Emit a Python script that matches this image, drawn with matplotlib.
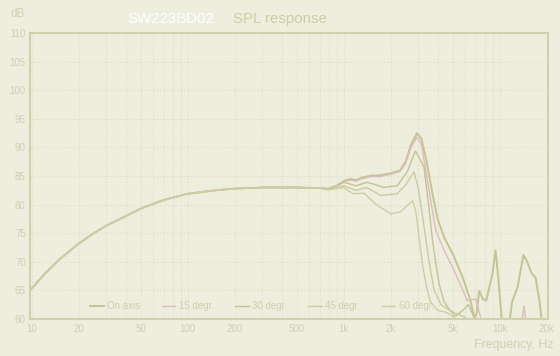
import matplotlib.pyplot as plt
from matplotlib.ticker import FixedLocator, FixedFormatter, NullFormatter
import numpy as np

plt.rcParams['font.family'] = ['Liberation Sans', 'DejaVu Sans']

# Datos comunes (todas las curvas coinciden por debajo de ~700 Hz)
freq_low = [10, 12, 15, 20, 25, 30, 40, 50, 70, 100, 150, 200, 300, 500, 700]
spl_low = [65.3, 67.8, 70.4, 73.2, 75.0, 76.3, 78.0, 79.3, 80.8, 81.9, 82.5, 82.8, 83.0, 83.0, 82.9]

# On axis
freq_0 = [800, 900, 1000, 1100, 1200, 1300, 1500, 1700, 2000, 2300, 2500, 2700, 2950, 3150,
          3400, 3700, 4000, 4400, 5000, 5800, 6500, 6900, 7100, 7400, 7800, 8200, 9000, 9400,
          9800, 10300, 10700, 11500, 12000, 13000, 14200, 15000, 16000, 17000, 18000, 19000]
spl_0 = [82.8, 83.3, 84.1, 84.5, 84.3, 84.7, 85.1, 85.1, 85.5, 86.0, 87.6, 90.5, 92.5, 91.5,
         87.5, 82.0, 77.5, 74.3, 71.4, 67.2, 63.2, 60.0, 61.0, 64.9, 63.5, 63.2, 68.0, 72.0,
         67.0, 60.0, 57.5, 59.0, 63.0, 65.5, 71.2, 70.0, 68.0, 67.2, 63.0, 57.5]

# 15 degr.
freq_15 = [800, 900, 1000, 1100, 1200, 1300, 1500, 1700, 2000, 2300, 2500, 2700, 2950, 3150,
           3400, 3700, 3900, 4400, 5000, 5600, 6200, 7000, 7500, 8000, 13500, 14300, 15000]
spl_15 = [82.7, 83.2, 84.0, 84.3, 84.1, 84.5, 84.9, 84.9, 85.3, 85.8, 87.3, 90.0, 91.8, 90.5,
          85.0, 79.0, 75.4, 72.0, 69.0, 66.0, 63.2, 63.5, 60.5, 57.5, 57.5, 62.3, 57.5]

# 30 degr.
freq_30 = [800, 1000, 1200, 1400, 1600, 1800, 2200, 2550, 2880, 3270, 3500, 3700, 3900, 4100,
           4400, 4800, 5200, 5800, 6300, 6800, 7200]
spl_30 = [82.7, 83.9, 83.3, 83.9, 83.5, 83.0, 83.3, 85.7, 89.4, 86.6, 80.0, 74.0, 69.5, 66.0,
          63.0, 61.5, 60.5, 61.5, 62.5, 60.5, 58.0]

# 45 degr.
freq_45 = [800, 1000, 1200, 1400, 1730, 2200, 2500, 2820, 3000, 3200, 3400, 3600, 3800, 4200,
           4600, 5200, 6000, 6600]
spl_45 = [82.6, 83.3, 82.5, 83.0, 81.6, 81.9, 83.5, 85.7, 83.0, 78.0, 73.0, 68.5, 65.0, 62.5,
          61.8, 61.0, 60.3, 59.0]

# 60 degr.
freq_60 = [800, 1000, 1150, 1350, 1600, 2000, 2300, 2770, 2900, 3050, 3200, 3400, 3600, 4000,
           4500, 5000, 5500]
spl_60 = [82.6, 83.0, 81.9, 82.0, 80.1, 78.4, 78.7, 80.7, 78.7, 74.0, 69.5, 65.5, 63.0, 61.5,
          61.2, 60.5, 59.0]

labels = ['On axis', '15 degr.', '30 degr.', '45 degr.', '60 degr.']
xticks = [10, 20, 50, 100, 200, 500, 1000, 2000, 5000, 10000, 20000]
xticklabels = ['10', '20', '50', '100', '200', '500', '1k', '2k', '5k', '10k', '20k']
yticks = [60, 65, 70, 75, 80, 85, 90, 95, 100, 105, 110]

bg = '#eeeedf'
olive = '#c4c491'
txt = '#cfcfb4'

fig = plt.figure(figsize=(5.6, 3.56), dpi=100, facecolor=bg)
ax = fig.add_axes([0.0536, 0.104, 0.925, 0.803], facecolor=bg)

series = [(freq_0, spl_0, olive, 1.4), (freq_15, spl_15, '#dabdbc', 1.0),
          (freq_30, spl_30, olive, 1.0), (freq_45, spl_45, '#cbcb9e', 1.0),
          (freq_60, spl_60, '#cfcda6', 1.0)]
for (f, s, c, lw), lab in zip(series, labels):
    ax.plot(freq_low + f, spl_low + s, color=c, lw=lw, label=lab)

ax.set_xscale('log')
ax.set_xlim(9.75, 20400)
ax.set_ylim(60, 110)

ax.xaxis.set_major_locator(FixedLocator(xticks))
ax.xaxis.set_major_formatter(FixedFormatter(xticklabels))
minors = [m * 10 ** e for e in range(1, 5) for m in range(1, 10)]
ax.xaxis.set_minor_locator(FixedLocator(minors))
ax.xaxis.set_minor_formatter(NullFormatter())
ax.set_yticks(yticks)

ax.tick_params(axis='both', which='both', length=0, labelsize=7, labelcolor=txt)
ax.tick_params(axis='x', pad=3.5)
ax.tick_params(axis='y', pad=3)
ax.grid(True, which='both', axis='x', color='#dcdcc6', lw=0.8, ls=(0, (1, 2)))
ax.grid(True, which='major', axis='y', color='#dcdcc6', lw=0.8, ls=(0, (1, 2)))

for sp in ax.spines.values():
    sp.set_color('#d0d0ab')
    sp.set_linewidth(1.5)

leg = ax.legend(loc='lower left', bbox_to_anchor=(90 / 560, 1 - 311 / 356),
                bbox_transform=fig.transFigure, ncol=5, frameon=False, borderpad=0,
                borderaxespad=0, fontsize=7, handlelength=1.4, handletextpad=0.35,
                columnspacing=2.2, labelcolor='#cfcfab')

fig.text(0.018, 0.962, 'dB', fontsize=8.3, color='#cfcfb0', va='center')
fig.text(127 / 560, 0.948, 'SW223BD02', fontsize=10.8, color='white', va='center')
fig.text(233 / 560, 0.948, 'SPL response', fontsize=10.8, color='#cdcda4', va='center')
fig.text(553 / 560, 1 - 345 / 356, 'Frequency, Hz', fontsize=8.9, color='#d0d0b0',
         ha='right', va='center')

fig.savefig('out.png', dpi=100, facecolor=bg)
